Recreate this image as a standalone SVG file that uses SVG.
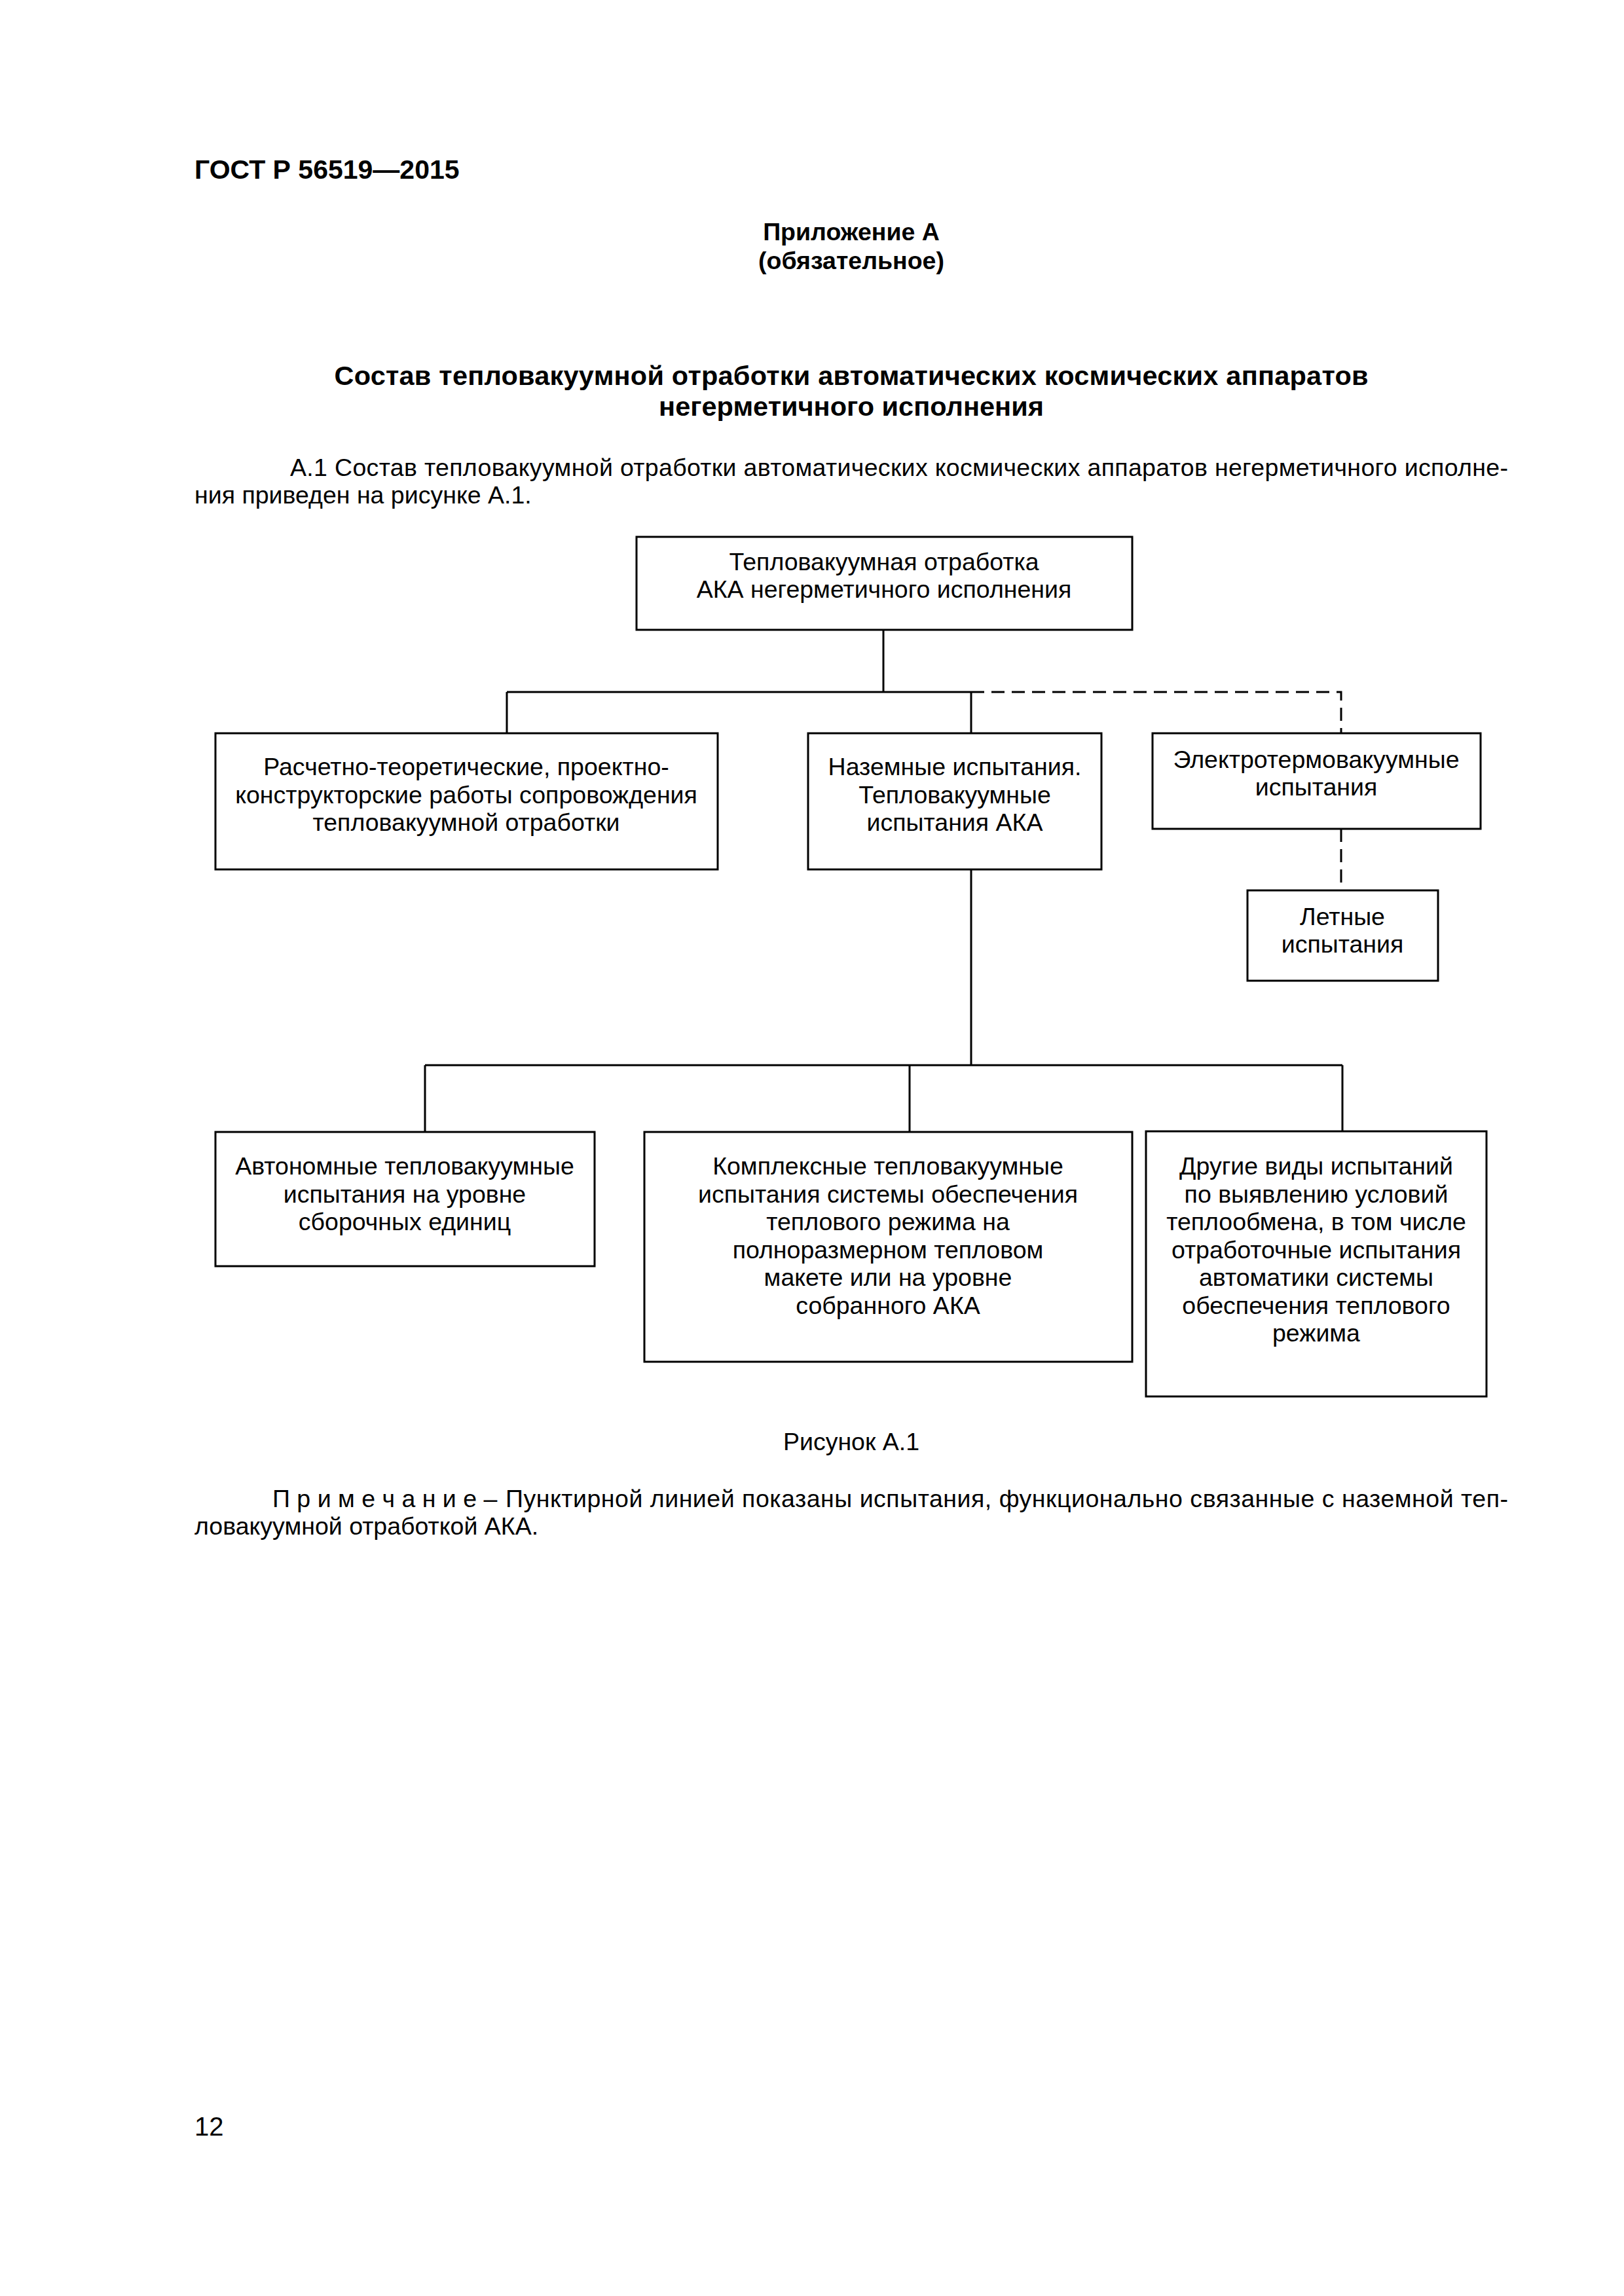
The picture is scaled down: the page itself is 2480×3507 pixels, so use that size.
<svg xmlns="http://www.w3.org/2000/svg" width="2480" height="3507" viewBox="0 0 2480 3507">
<style>
text{font-family:"Liberation Sans",Arial,sans-serif;fill:#000}
.t{font-size:37.5px}
.c{text-anchor:middle}
.b{font-weight:bold}
.box{fill:#fff;stroke:#000;stroke-width:3}
.ln{fill:none;stroke:#000;stroke-width:3}
.dash{fill:none;stroke:#000;stroke-width:3;stroke-dasharray:20 11}
</style>
<rect width="2480" height="3507" fill="#fff"/>
<text x="297" y="273" class="b" font-size="41">ГОСТ Р 56519—2015</text>
<text x="1300" y="367" class="c b t">Приложение А</text>
<text x="1300" y="411" class="c b t">(обязательное)</text>
<text x="1300" y="588" class="c b" font-size="41.5" textLength="1579" lengthAdjust="spacing">Состав тепловакуумной отработки автоматических космических аппаратов</text>
<text x="1300" y="635" class="c b" font-size="41.5">негерметичного исполнения</text>
<text x="443" y="727" class="t" textLength="1860" lengthAdjust="spacing">А.1 Состав тепловакуумной отработки автоматических космических аппаратов негерметичного исполне-</text>
<text x="297" y="769" class="t">ния приведен на рисунке А.1.</text>

<g id="connectors">
<path class="ln" d="M1349 963 V1057 M774 1057 H1483 M774 1057 V1120 M1483 1057 V1120"/>
<path class="dash" d="M1483 1057 H2048 V1120"/>
<path class="dash" d="M2048 1266 V1360"/>
<path class="ln" d="M1483 1328 V1627 M649 1627 H2050 M649 1627 V1729 M1389 1627 V1729 M2050 1627 V1728"/>
</g>

<g id="n-root">
<rect class="box" x="972" y="820" width="757" height="142"/>
<text class="t c" x="1350" y="871">Тепловакуумная отработка</text>
<text class="t c" x="1350" y="913">АКА негерметичного исполнения</text>
</g>
<g id="n-calc">
<rect class="box" x="329" y="1120" width="767" height="208"/>
<text class="t c" x="712" y="1184">Расчетно-теоретические, проектно-</text>
<text class="t c" x="712" y="1227">конструкторские работы сопровождения</text>
<text class="t c" x="712" y="1269">тепловакуумной отработки</text>
</g>
<g id="n-ground">
<rect class="box" x="1234" y="1120" width="448" height="208"/>
<text class="t c" x="1458" y="1184">Наземные испытания.</text>
<text class="t c" x="1458" y="1227">Тепловакуумные</text>
<text class="t c" x="1458" y="1269">испытания АКА</text>
</g>
<g id="n-electro">
<rect class="box" x="1760" y="1120" width="501" height="146"/>
<text class="t c" x="2010" y="1173">Электротермовакуумные</text>
<text class="t c" x="2010" y="1215">испытания</text>
</g>
<g id="n-flight">
<rect class="box" x="1905" y="1360" width="291" height="138"/>
<text class="t c" x="2050" y="1413">Летные</text>
<text class="t c" x="2050" y="1455">испытания</text>
</g>
<g id="n-auto">
<rect class="box" x="329" y="1729" width="579" height="205"/>
<text class="t c" x="618" y="1794">Автономные тепловакуумные</text>
<text class="t c" x="618" y="1837">испытания на уровне</text>
<text class="t c" x="618" y="1879">сборочных единиц</text>
</g>
<g id="n-complex">
<rect class="box" x="984" y="1729" width="745" height="351"/>
<text class="t c" x="1356" y="1794">Комплексные тепловакуумные</text>
<text class="t c" x="1356" y="1837">испытания системы обеспечения</text>
<text class="t c" x="1356" y="1879">теплового режима на</text>
<text class="t c" x="1356" y="1922">полноразмерном тепловом</text>
<text class="t c" x="1356" y="1964">макете или на уровне</text>
<text class="t c" x="1356" y="2007">собранного АКА</text>
</g>
<g id="n-other">
<rect class="box" x="1750" y="1728" width="520" height="405"/>
<text class="t c" x="2010" y="1794">Другие виды испытаний</text>
<text class="t c" x="2010" y="1837">по выявлению условий</text>
<text class="t c" x="2010" y="1879">теплообмена, в том числе</text>
<text class="t c" x="2010" y="1922">отработочные испытания</text>
<text class="t c" x="2010" y="1964">автоматики системы</text>
<text class="t c" x="2010" y="2007">обеспечения теплового</text>
<text class="t c" x="2010" y="2049">режима</text>
</g>

<text class="t c" x="1300" y="2215">Рисунок А.1</text>
<text class="t" x="416" y="2302">П р и м е ч а н и е –</text>
<text class="t" x="772" y="2302" textLength="1531" lengthAdjust="spacing">Пунктирной линией показаны испытания, функционально связанные с наземной теп-</text>
<text class="t" x="297" y="2344">ловакуумной отработкой АКА.</text>
<text x="297" y="3262" font-size="40">12</text>
</svg>
